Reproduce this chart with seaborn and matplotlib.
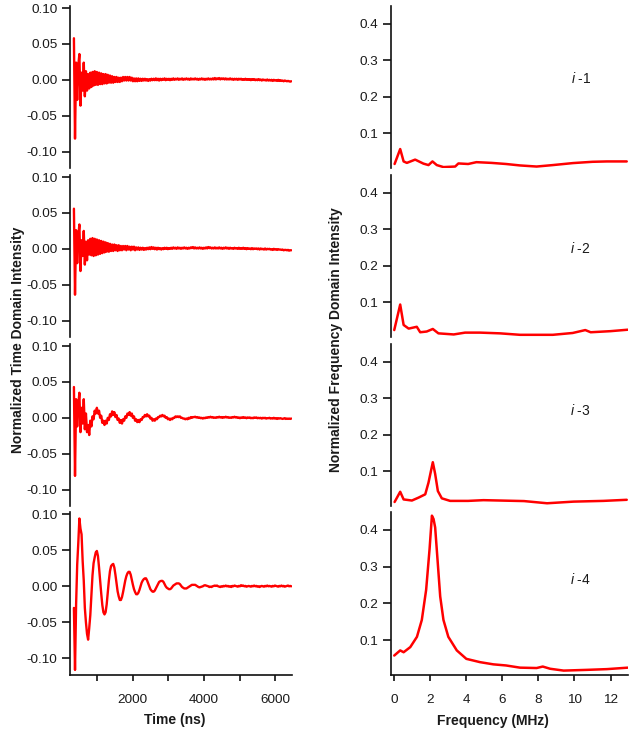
import numpy as np
import matplotlib
matplotlib.use("Agg")
import matplotlib.pyplot as plt
from matplotlib.ticker import FixedLocator, FormatStrFormatter
import seaborn as sns

sns.set_style("ticks")
plt.rcParams['font.family'] = ['Liberation Sans', 'DejaVu Sans']
plt.rcParams['axes.unicode_minus'] = False
plt.rcParams['mathtext.fontset'] = 'custom'
plt.rcParams['mathtext.it'] = 'Liberation Sans:italic'
plt.rcParams['mathtext.rm'] = 'Liberation Sans'

# ---------------- time-domain traces ----------------
time_start_ns = 350
time_end_ns = 6450

td_1 = [0.058, -0.082, 0.024, -0.028, 0.020, 0.036, -0.036, 0.010, -0.015, 0.024,
        -0.023, 0.012, -0.015, 0.008, -0.012, 0.010, -0.010, 0.011, -0.008, 0.012,
        -0.007, 0.011, -0.007, 0.010, -0.006, 0.009, -0.006, 0.008, -0.005, 0.008,
        -0.005, 0.007, -0.004, 0.006, -0.004, 0.005, -0.004, 0.004, -0.003, 0.004,
        -0.003, 0.003, -0.003, 0.003, -0.002, 0.004, -0.001, 0.004, -0.001, 0.004,
        -0.001, 0.004, -0.001, 0.003, -0.002, 0.002, -0.002, 0.002, -0.002, 0.002,
        -0.0015, 0.0015, -0.0015, 0.0015, -0.001, 0.0015, -0.001, 0.001, -0.0015, 0.001,
        -0.001, 0.0015, -0.0005, 0.0015, -0.0005, 0.002, -0.0005, 0.0015, -0.001, 0.0015,
        -0.0005, 0.0015, 0.0, 0.002, -0.0005, 0.0015, 0.0, 0.0015, -0.0005, 0.0015,
        0.0, 0.002, 0.0, 0.0015, 0.0005, 0.002, 0.0, 0.0015, 0.0005, 0.002,
        0.0, 0.0015, 0.0005, 0.002, 0.0005, 0.0015, 0.0, 0.002, 0.0005, 0.0015,
        0.0005, 0.002, 0.0005, 0.0015, 0.0, 0.0015, 0.0005, 0.002, 0.0005, 0.0015,
        0.0, 0.0015, 0.0005, 0.002, 0.0005, 0.0015, 0.0005, 0.002, 0.0005, 0.0025,
        0.0005, 0.002, 0.001, 0.0025, 0.0005, 0.002, 0.001, 0.002, 0.0005, 0.002,
        0.0005, 0.0015, 0.0005, 0.002, 0.0005, 0.0015, 0.0, 0.0015, 0.0005, 0.0015,
        0.0, 0.0015, 0.0005, 0.0015, 0.0, 0.001, 0.0, 0.0015, 0.0, 0.001,
        0.0, 0.001, -0.0005, 0.001, 0.0, 0.001, -0.0005, 0.0005, -0.0005, 0.001,
        -0.0005, 0.0005, -0.001, 0.0005, -0.0005, 0.0, -0.001, 0.0005, -0.001, 0.0,
        -0.001, 0.0, -0.0015, 0.0, -0.001, -0.0005, -0.0015, 0.0, -0.0015, -0.0005,
        -0.0015, -0.001, -0.002, -0.001, -0.0015, -0.002, -0.0015, -0.002, -0.0025, -0.002]

td_2 = [0.056, -0.064, 0.026, -0.020, 0.018, 0.034, -0.031, 0.012, -0.010, 0.025,
        -0.022, 0.010, -0.016, 0.012, -0.008, 0.014, -0.009, 0.015, -0.010, 0.014,
        -0.009, 0.013, -0.008, 0.012, -0.007, 0.011, -0.006, 0.010, -0.005, 0.009,
        -0.004, 0.008, -0.004, 0.007, -0.003, 0.006, -0.003, 0.006, -0.002, 0.005,
        -0.003, 0.005, -0.002, 0.004, -0.002, 0.004, -0.001, 0.004, -0.002, 0.004,
        -0.001, 0.003, -0.002, 0.003, -0.001, 0.003, -0.002, 0.002, -0.001, 0.002,
        -0.0015, 0.0015, -0.001, 0.0015, -0.0015, 0.001, -0.001, 0.0015, -0.0005, 0.002,
        -0.0005, 0.0025, 0.0, 0.002, -0.0005, 0.0015, -0.001, 0.0015, -0.0005, 0.001,
        -0.001, 0.001, -0.0005, 0.0015, 0.0, 0.0015, -0.0005, 0.001, 0.0, 0.0015,
        0.0, 0.002, 0.0005, 0.0015, 0.0, 0.002, 0.0005, 0.0015, 0.0, 0.0015,
        0.0005, 0.002, 0.0005, 0.0015, 0.0, 0.0015, 0.0005, 0.002, 0.001, 0.0025,
        0.0005, 0.002, 0.0005, 0.0015, 0.0005, 0.002, 0.0005, 0.0015, 0.0, 0.0015,
        0.0005, 0.002, 0.0005, 0.0025, 0.001, 0.002, 0.0005, 0.0015, 0.0005, 0.002,
        0.0005, 0.0015, 0.0005, 0.002, 0.0005, 0.0015, 0.0, 0.0015, 0.0005, 0.002,
        0.0005, 0.0015, 0.0, 0.0015, 0.0005, 0.001, 0.0, 0.0015, 0.0005, 0.001,
        0.0, 0.0015, 0.0, 0.001, 0.0, 0.0015, 0.0, 0.001, -0.0005, 0.001,
        0.0, 0.0005, -0.0005, 0.001, -0.0005, 0.0005, 0.0, 0.0005, -0.0005, 0.0005,
        -0.001, 0.0005, -0.0005, 0.0, -0.001, 0.0005, -0.001, 0.0, -0.0005, 0.0,
        -0.001, -0.0005, -0.0015, 0.0, -0.001, -0.0005, -0.0015, -0.0005, -0.001, -0.001,
        -0.0015, -0.001, -0.002, -0.0015, -0.0015, -0.002, -0.0015, -0.0025, -0.002, -0.002]

td_3 = [0.043, -0.081, 0.026, -0.012, 0.018, 0.035, -0.020, 0.014, -0.008, 0.026,
        -0.016, 0.006, -0.020, -0.010, -0.024, -0.004, -0.012, 0.002, -0.002, 0.010,
        0.006, 0.014, 0.006, 0.010, 0.000, 0.003, -0.007, -0.004, -0.010, -0.004,
        -0.008, 0.000, -0.003, 0.005, 0.002, 0.009, 0.004, 0.008, 0.001, 0.004,
        -0.003, -0.001, -0.007, -0.003, -0.008, -0.002, -0.004, 0.002, 0.000, 0.006,
        0.004, 0.008, 0.003, 0.006, 0.000, 0.002, -0.004, -0.002, -0.006, -0.003,
        -0.006, -0.002, -0.003, 0.001, 0.001, 0.004, 0.002, 0.005, 0.002, 0.003,
        -0.001, 0.000, -0.004, -0.002, -0.004, -0.001, -0.002, 0.001, 0.001, 0.003,
        0.002, 0.004, 0.002, 0.003, 0.000, 0.001, -0.002, -0.001, -0.003, -0.001,
        -0.002, 0.000, 0.000, 0.002, 0.001, 0.002, 0.001, 0.002, 0.000, 0.000,
        -0.001, -0.001, -0.002, -0.001, -0.002, 0.000, -0.001, 0.001, 0.000, 0.001,
        0.001, 0.0015, 0.0005, 0.001, 0.0, 0.0005, -0.0005, 0.0, -0.001, 0.0,
        -0.0005, 0.0005, 0.0, 0.001, 0.0005, 0.0015, 0.0005, 0.001, 0.0, 0.0005,
        0.0, 0.001, 0.0005, 0.0015, 0.0005, 0.001, 0.0, 0.001, 0.0005, 0.0015,
        0.0005, 0.001, 0.0, 0.0005, 0.0, 0.001, 0.0005, 0.0015, 0.0005, 0.001,
        0.0, 0.0005, -0.0005, 0.0005, 0.0, 0.001, 0.0, 0.0005, -0.0005, 0.0005,
        0.0, 0.0005, -0.0005, 0.0, -0.0005, 0.0005, 0.0, 0.0005, -0.0005, 0.0,
        -0.0005, 0.0, -0.001, 0.0, -0.0005, 0.0, -0.001, -0.0005, -0.0005, 0.0,
        -0.001, -0.0005, -0.001, 0.0, -0.001, -0.0005, -0.0015, -0.0005, -0.001, -0.0005,
        -0.001, -0.0015, -0.001, -0.0005, -0.0015, -0.001, -0.0015, -0.001, -0.0015, -0.001]

td_4 = [-0.030, -0.116, -0.025, 0.030, 0.060, 0.094, 0.080, 0.072, 0.035, 0.008,
        -0.030, -0.050, -0.066, -0.074, -0.058, -0.040, -0.012, 0.015, 0.032, 0.040,
        0.047, 0.049, 0.042, 0.026, 0.008, -0.010, -0.026, -0.036, -0.039, -0.036,
        -0.025, -0.009, 0.008, 0.021, 0.028, 0.030, 0.031, 0.026, 0.016, 0.004,
        -0.007, -0.014, -0.019, -0.019, -0.015, -0.008, 0.000, 0.008, 0.014, 0.018,
        0.020, 0.020, 0.016, 0.009, 0.002, -0.004, -0.008, -0.011, -0.011, -0.009,
        -0.005, 0.000, 0.005, 0.008, 0.010, 0.011, 0.011, 0.008, 0.004, 0.000,
        -0.004, -0.006, -0.0075, -0.0075, -0.006, -0.003, 0.000, 0.003, 0.006, 0.007,
        0.0075, 0.0075, 0.006, 0.003, 0.000, -0.002, -0.003, -0.004, -0.004, -0.003,
        -0.001, 0.001, 0.002, 0.003, 0.004, 0.004, 0.004, 0.003, 0.001, -0.001,
        -0.002, -0.003, -0.003, -0.003, -0.002, -0.001, 0.000, 0.001, 0.002, 0.002,
        0.002, 0.002, 0.001, 0.000, -0.001, -0.0015, -0.001, -0.0005, 0.0, 0.001,
        0.0015, 0.001, 0.0005, 0.0, -0.001, -0.0005, -0.001, 0.0, 0.0005, 0.001,
        0.0005, 0.001, 0.0, -0.0005, -0.001, 0.0, -0.0005, 0.0005, 0.0, 0.001,
        0.0, 0.0005, -0.0005, 0.0, -0.001, 0.0005, 0.0, 0.001, 0.0005, 0.0,
        -0.0005, 0.0005, 0.0, 0.0015, 0.0005, 0.001, 0.0, 0.0005, -0.0005, 0.0,
        0.0005, 0.0, -0.0005, 0.0005, 0.0, 0.001, 0.0, 0.0005, -0.0005, 0.0,
        -0.001, 0.0, 0.0005, 0.0, -0.0005, 0.0005, 0.0, 0.001, 0.0, 0.0005,
        0.0, -0.0005, 0.0005, 0.0, 0.001, 0.0005, 0.0, -0.0005, 0.0005, 0.0,
        0.001, 0.0, 0.0005, -0.0005, 0.0, 0.0005, 0.001, 0.0, 0.0005, 0.0]

# ---------------- frequency-domain spectra ----------------
fd_1_freq = [0.02, 0.33, 0.52, 0.70, 1.16, 1.62, 1.90, 2.12, 2.36, 2.73, 3.38, 3.56,
             4.10, 4.56, 5.40, 6.20, 6.98, 7.90, 8.80, 9.92, 11.0, 11.8, 12.9]
fd_1_int = [0.016, 0.057, 0.023, 0.019, 0.028, 0.017, 0.013, 0.023, 0.013, 0.0075, 0.009, 0.0175,
            0.016, 0.021, 0.019, 0.016, 0.012, 0.009, 0.013, 0.0185, 0.022, 0.023, 0.023]

fd_2_freq = [0.0, 0.33, 0.52, 0.80, 1.25, 1.44, 1.80, 2.14, 2.45, 3.30, 3.93, 4.76,
             5.87, 6.98, 8.80, 9.90, 10.6, 10.9, 12.0, 12.96]
fd_2_int = [0.024, 0.094, 0.038, 0.028, 0.033, 0.018, 0.020, 0.027, 0.015, 0.012, 0.017, 0.017,
            0.015, 0.011, 0.011, 0.016, 0.024, 0.018, 0.021, 0.025]

fd_3_freq = [0.02, 0.33, 0.52, 0.98, 1.35, 1.72, 1.90, 2.14, 2.27, 2.42, 2.64, 3.10,
             4.10, 4.95, 7.20, 8.48, 9.95, 11.6, 12.9]
fd_3_int = [0.016, 0.044, 0.023, 0.020, 0.028, 0.037, 0.069, 0.125, 0.093, 0.046, 0.026, 0.019,
            0.019, 0.021, 0.0185, 0.0125, 0.017, 0.019, 0.022]

fd_4_freq = [0.0, 0.33, 0.52, 0.89, 1.26, 1.53, 1.77, 1.96, 2.09, 2.18, 2.27, 2.40,
             2.55, 2.73, 3.00, 3.47, 4.00, 4.76, 5.50, 6.20, 6.98, 7.90, 8.24, 8.65,
             9.40, 10.7, 11.8, 12.96]
fd_4_int = [0.058, 0.072, 0.067, 0.081, 0.109, 0.155, 0.237, 0.348, 0.439, 0.430, 0.407, 0.320,
            0.219, 0.155, 0.109, 0.072, 0.049, 0.040, 0.034, 0.031, 0.025, 0.024, 0.028, 0.022,
            0.017, 0.019, 0.021, 0.025]

sample_labels = ["-1", "-2", "-3", "-4"]
label_y = [0.25, 0.247, 0.266, 0.266]

time_ticks = [1000, 2000, 3000, 4000, 5000, 6000]
time_tick_labels = ["", "2000", "", "4000", "", "6000"]
freq_ticks = [0, 2, 4, 6, 8, 10, 12]
td_yticks = [-0.10, -0.05, 0.00, 0.05, 0.10]
fd_yticks = [0.1, 0.2, 0.3, 0.4]

# ---------------- layout ----------------
W, H = 634, 735
fig = plt.figure(figsize=(W / 100, H / 100), dpi=100)

panel_px = [(6, 168), (175, 337), (344, 506), (512, 675)]
left_x = (70, 292)
right_x = (391, 628)

td_series = [td_1, td_2, td_3, td_4]
fd_series = [(fd_1_freq, fd_1_int), (fd_2_freq, fd_2_int), (fd_3_freq, fd_3_int), (fd_4_freq, fd_4_int)]

red = "#ff0000"
tick_fs = 9.7
text_col = "#1a1a1a"

def style_axis(ax, bottom):
    for s in ["top", "right"]:
        ax.spines[s].set_visible(False)
    for s in ["left", "bottom"]:
        ax.spines[s].set_linewidth(1.2)
        ax.spines[s].set_color("#111111")
    ax.tick_params(axis="y", direction="out", length=5.5, width=1.2, colors="#111111",
                   labelsize=tick_fs, pad=3.5, labelcolor=text_col)
    ax.tick_params(axis="x", direction="out", length=4, width=1.2, colors="#111111",
                   labelsize=tick_fs, pad=9.5, labelcolor=text_col)
    if not bottom:
        ax.spines["bottom"].set_visible(False)
        ax.set_xticks([])
    ax.set_xlabel("")
    ax.set_ylabel("")
    ax.set_facecolor("none")

for k in range(4):
    top, bot = panel_px[k]
    y0 = 1 - bot / H
    h = (bot - top) / H
    # left: time domain
    axl = fig.add_axes([left_x[0] / W, y0, (left_x[1] - left_x[0]) / W, h])
    vals = td_series[k]
    t = np.linspace(time_start_ns, time_end_ns, len(vals))
    sns.lineplot(x=t, y=vals, ax=axl, color=red, linewidth=1.7, estimator=None,
                 sort=False, legend=False)
    axl.set_xlim(240, 6470)
    axl.set_ylim(-0.123, 0.103)
    axl.yaxis.set_major_locator(FixedLocator(td_yticks))
    axl.yaxis.set_major_formatter(FormatStrFormatter("%.2f"))
    style_axis(axl, k == 3)
    if k == 3:
        axl.set_xticks(time_ticks)
        axl.set_xticklabels(time_tick_labels)

    # right: frequency domain
    axr = fig.add_axes([right_x[0] / W, y0, (right_x[1] - right_x[0]) / W, h])
    f, a = fd_series[k]
    sns.lineplot(x=f, y=a, ax=axr, color=red, linewidth=1.8, estimator=None,
                 sort=False, legend=False)
    axr.set_xlim(-0.18, 12.97)
    axr.set_ylim(0.005, 0.449)
    axr.yaxis.set_major_locator(FixedLocator(fd_yticks))
    axr.yaxis.set_major_formatter(FormatStrFormatter("%.1f"))
    style_axis(axr, k == 3)
    if k == 3:
        axr.set_xticks(freq_ticks)
    axr.text(10.35, label_y[k], "$i$ " + sample_labels[k], ha="center", va="center",
             fontsize=10, color=text_col)

fig.text(18 / W, 1 - 340 / H, "Normalized Time Domain Intensity", rotation=90,
         ha="center", va="center", fontsize=10, fontweight="bold", color=text_col)
fig.text(336 / W, 1 - 340 / H, "Normalized Frequency Domain Intensity", rotation=90,
         ha="center", va="center", fontsize=10, fontweight="bold", color=text_col)
fig.text(175 / W, 1 - 720 / H, "Time (ns)", ha="center", va="center",
         fontsize=10, fontweight="bold", color=text_col)
fig.text(493 / W, 1 - 721 / H, "Frequency (MHz)", ha="center", va="center",
         fontsize=10, fontweight="bold", color=text_col)

fig.savefig("out.png", dpi=100, facecolor="white")
